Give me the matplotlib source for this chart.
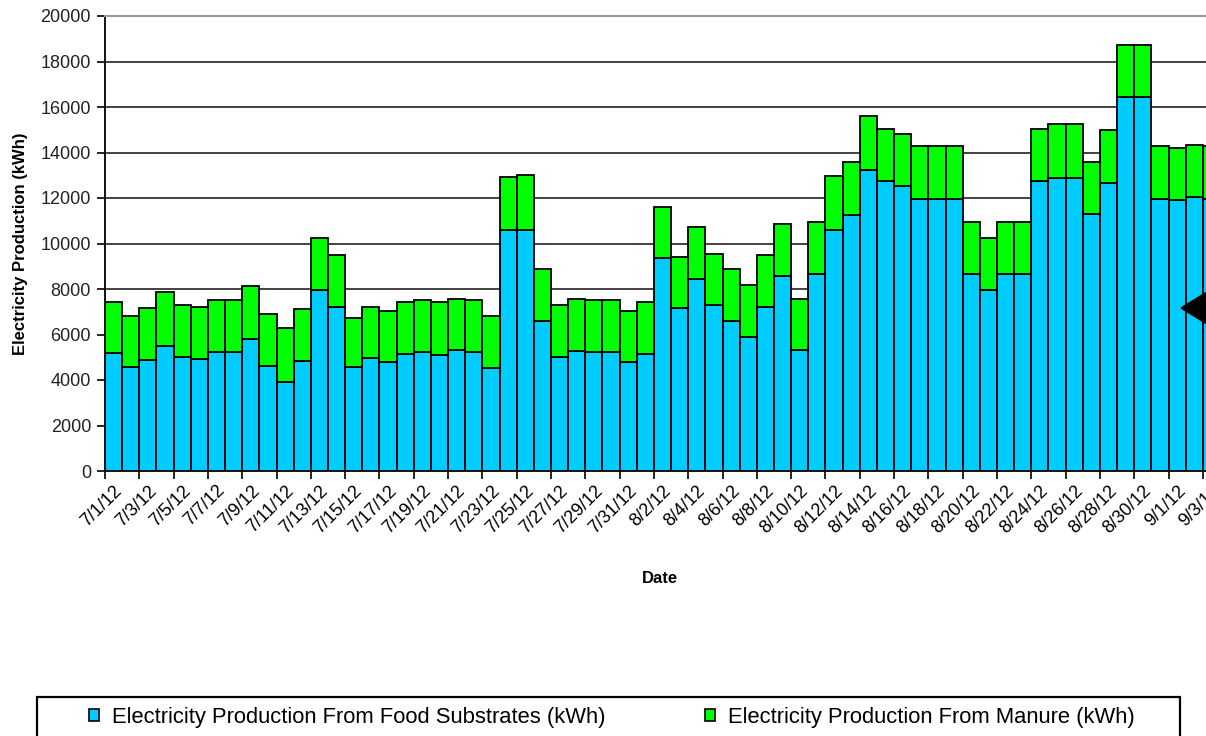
import matplotlib
matplotlib.use("Agg")
import matplotlib.pyplot as plt
import matplotlib.transforms as mtransforms
from matplotlib.patches import Polygon, Patch, Rectangle
import numpy as np

dates = ["7/1/12", "7/2/12", "7/3/12", "7/4/12", "7/5/12", "7/6/12", "7/7/12", "7/8/12",
         "7/9/12", "7/10/12", "7/11/12", "7/12/12", "7/13/12", "7/14/12", "7/15/12", "7/16/12",
         "7/17/12", "7/18/12", "7/19/12", "7/20/12", "7/21/12", "7/22/12", "7/23/12", "7/24/12",
         "7/25/12", "7/26/12", "7/27/12", "7/28/12", "7/29/12", "7/30/12", "7/31/12",
         "8/1/12", "8/2/12", "8/3/12", "8/4/12", "8/5/12", "8/6/12", "8/7/12", "8/8/12",
         "8/9/12", "8/10/12", "8/11/12", "8/12/12", "8/13/12", "8/14/12", "8/15/12", "8/16/12",
         "8/17/12", "8/18/12", "8/19/12", "8/20/12", "8/21/12", "8/22/12", "8/23/12", "8/24/12",
         "8/25/12", "8/26/12", "8/27/12", "8/28/12", "8/29/12", "8/30/12", "8/31/12",
         "9/1/12", "9/2/12", "9/3/12"]

food = [5200, 4550, 4870, 5500, 5000, 4920, 5250, 5250, 5820, 4620, 3920, 4840, 7950,
        7220, 4550, 4980, 4770, 5130, 5250, 5100, 5320, 5250, 4530, 10610, 10610, 6590,
        5030, 5290, 5250, 5250, 4770, 5150, 9360, 7150, 8450, 7300, 6610, 5890, 7220,
        8570, 5310, 8640, 10610, 11270, 13250, 12730, 12520, 11970, 11970, 11970, 8640,
        7940, 8640, 8640, 12730, 12880, 12880, 11300, 12660, 16460, 16460, 11970, 11900,
        12050, 11970]

manure = [2250, 2260, 2290, 2350, 2300, 2310, 2250, 2250, 2310, 2280, 2350, 2260, 2300,
          2280, 2190, 2250, 2260, 2300, 2250, 2330, 2250, 2250, 2280, 2300, 2390, 2300,
          2270, 2280, 2250, 2250, 2260, 2280, 2250, 2270, 2270, 2250, 2280, 2280, 2270,
          2290, 2260, 2300, 2370, 2310, 2340, 2300, 2310, 2300, 2300, 2300, 2300,
          2280, 2300, 2300, 2300, 2370, 2370, 2280, 2310, 2270, 2270, 2300, 2300,
          2290, 2330]

series_names = ["Electricity Production From Food Substrates (kWh)",
                "Electricity Production From Manure (kWh)"]

blue = "#00CCFF"
green = "#00FF00"

plt.rcParams["font.family"] = ["Liberation Sans", "DejaVu Sans"]

W, H = 1206, 736
fig = plt.figure(figsize=(W / 100, H / 100), dpi=100)

# plot area runs past the right edge, like the cropped original
left, right, top, bottom = 105, 1220, 16, 471
ax = fig.add_axes([left / W, 1 - bottom / H, (right - left) / W, (bottom - top) / H])

x = np.arange(len(dates))
ax.bar(x, food, width=1.0, color=blue, edgecolor="black", linewidth=1.3, zorder=3)
ax.bar(x, manure, bottom=food, width=1.0, color=green, edgecolor="black", linewidth=1.3, zorder=3)

ax.set_xlim(-0.5, len(dates) - 0.5)
ax.set_ylim(0, 20000)
ax.set_yticks(np.arange(0, 20001, 2000))
ax.yaxis.grid(True, color="#222222", linewidth=1.2, zorder=0)
ax.set_axisbelow(True)

# tick marks between every second category, labels on the category centres
ax.set_xticks(np.arange(-0.5, len(dates), 2))
ax.set_xticklabels([])
ax.set_xticks(x[::2], minor=True)
ax.set_xticklabels(dates[::2], minor=True, rotation=45, ha="right",
                   rotation_mode="anchor", fontsize=13)
shift = mtransforms.ScaledTranslation(-0.19, -0.08, fig.dpi_scale_trans)
for lab in ax.get_xticklabels(minor=True):
    lab.set_transform(lab.get_transform() + shift)
ax.tick_params(axis="x", which="major", length=6, width=1.2, color="black")
ax.tick_params(axis="x", which="minor", length=0, pad=8)
ax.tick_params(axis="y", length=6, width=1.2, labelsize=13, pad=4, labelcolor="#222222")

for s in ["left", "bottom"]:
    ax.spines[s].set_linewidth(1.3)
    ax.spines[s].set_color("black")
ax.spines["right"].set_visible(False)
ax.spines["top"].set_color("#999999")
ax.spines["top"].set_linewidth(1.5)

ax.set_ylabel("Electricity Production (kWh)", fontsize=12, fontweight="bold")
ax.set_xlabel("Date", fontsize=12, fontweight="bold")
ax.yaxis.set_label_coords(-77 / (right - left), 0.5)
ax.xaxis.set_label_coords((660 - left) / (right - left), -(571 - bottom) / (bottom - top))

# legend box (cut by the bottom edge in the original)
fig.patches.append(Rectangle((37 / W, -10 / H), (1180 - 37) / W, (736 - 697 + 10) / H,
                             transform=fig.transFigure, facecolor="white",
                             edgecolor="black", linewidth=1.6, zorder=1))
colors = [blue, green]
starts = [89, 705]
for name, col, x0 in zip(series_names, colors, starts):
    h = Patch(facecolor=col, edgecolor="black", linewidth=1.2)
    fig.legend([h], [name], loc="center left", bbox_to_anchor=(x0 / W, 18.5 / H),
               fontsize=15.8, frameon=False, borderpad=0,
               borderaxespad=0, handlelength=0.46, handleheight=0.46, handletextpad=0.6)

# pointer arrow at the right edge
tri = Polygon([[1181 / W, 1 - 308 / H], [1210 / W, 1 - 290 / H], [1210 / W, 1 - 326 / H]],
              closed=True, transform=fig.transFigure, facecolor="black", edgecolor="black",
              zorder=10)
fig.patches.append(tri)

fig.savefig("out.png", dpi=100)
